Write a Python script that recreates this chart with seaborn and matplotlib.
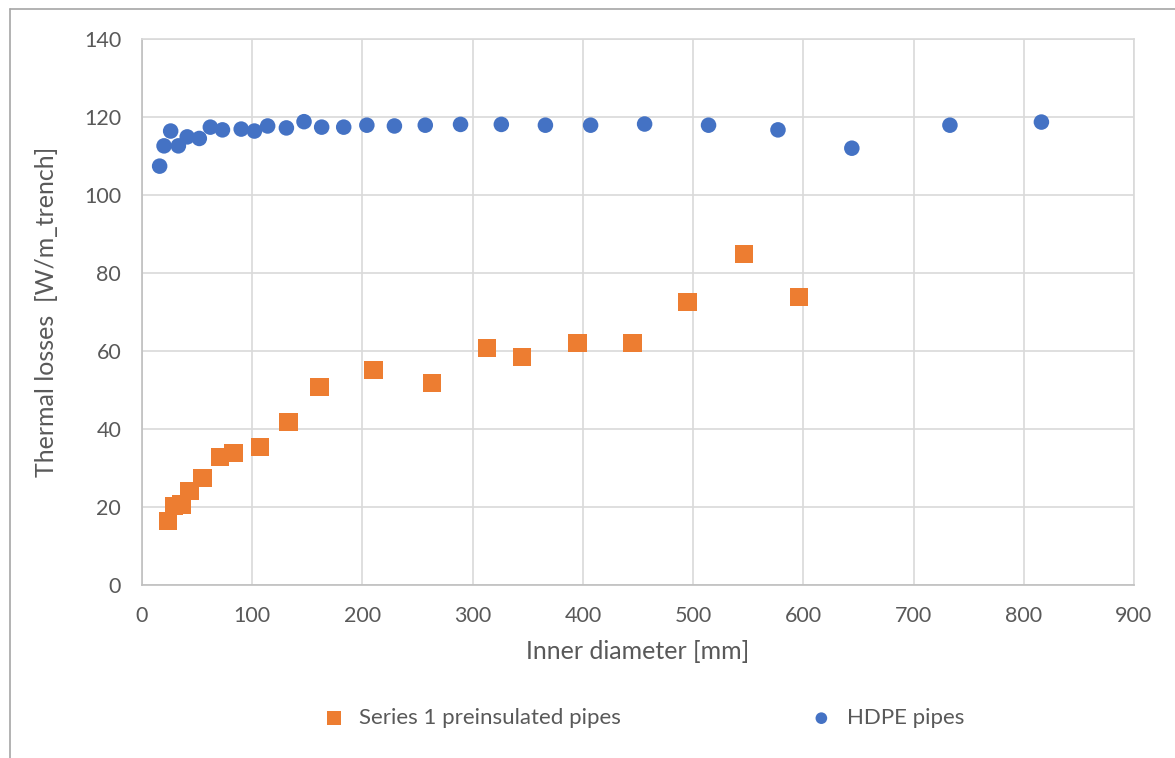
import matplotlib
matplotlib.use("Agg")
import matplotlib.pyplot as plt
from matplotlib.lines import Line2D
import seaborn as sns
import pandas as pd

# HDPE pipes
hdpe_d = [16, 20, 26, 33, 41, 52, 62, 73, 90, 102, 114, 131, 147, 163, 183, 204, 229, 257, 289, 326, 366, 407, 456, 514, 577, 644, 733, 816]
hdpe_q = [107.4, 112.6, 116.4, 112.6, 114.9, 114.5, 117.4, 116.7, 116.9, 116.4, 117.7, 117.2, 118.8, 117.4, 117.4, 117.9, 117.7, 117.9, 118.1, 118.1, 117.9, 117.9, 118.2, 117.9, 116.7, 112.0, 117.9, 118.7]

# Series 1 preinsulated pipes
pre_d = [23.6, 29, 36, 43, 55, 71, 83, 107, 133, 161, 210, 263, 313, 345, 395, 445, 495, 546, 596]
pre_q = [16.4, 20.3, 20.6, 24.1, 27.4, 32.8, 33.8, 35.4, 41.8, 50.8, 55.1, 51.8, 60.8, 58.5, 62.1, 62.1, 72.6, 84.9, 73.8]

series_pre = "Series 1 preinsulated pipes"
series_hdpe = "HDPE pipes"

df = pd.concat([
    pd.DataFrame({"d": pre_d, "q": pre_q, "series": series_pre}),
    pd.DataFrame({"d": hdpe_d, "q": hdpe_q, "series": series_hdpe}),
])

sns.set_theme(style="white")
plt.rcParams["font.family"] = ["Lato", "DejaVu Sans"]

fig = plt.figure(figsize=(11.75, 7.58), dpi=100)
ax = fig.add_axes([142 / 1175, 1 - 585 / 758, (1134 - 142) / 1175, (585 - 39) / 758])

orange = "#ED7D31"
blue = "#4472C4"

sns.scatterplot(data=df[df.series == series_pre], x="d", y="q", marker="s", s=175,
                color=orange, edgecolor="none", ax=ax, label=series_pre, zorder=3)
sns.scatterplot(data=df[df.series == series_hdpe], x="d", y="q", marker="o", s=125,
                color=blue, edgecolor="none", ax=ax, label=series_hdpe, zorder=3)

ax.set_xlim(0, 900)
ax.set_ylim(0, 140)
ax.set_xticks(range(0, 901, 100))
ax.set_yticks(range(0, 141, 20))
ax.grid(True, color="#D9D9D9", linewidth=1.2)
ax.set_axisbelow(True)
for sp in ax.spines.values():
    sp.set_color("#D9D9D9")
    sp.set_linewidth(1.2)
ax.spines["left"].set_color("#BFBFBF")
ax.spines["bottom"].set_color("#BFBFBF")
ax.tick_params(axis="both", length=0, labelsize=15.5, labelcolor="#595959", pad=15)

ax.set_xlabel("Inner diameter [mm]", fontsize=18, color="#595959", labelpad=10)
ax.set_ylabel("Thermal losses  [W/m_trench]", fontsize=18, color="#595959", labelpad=19)

leg = ax.legend(loc="center", bbox_to_anchor=(0.5, 1 - (718 - 39) / 546), ncol=2,
                frameon=False, fontsize=16, columnspacing=8.0, handletextpad=0.15,
                markerscale=0.75, labelcolor="#595959")

# chart border (left and top)
fig.add_artist(Line2D([10 / 1175, 10 / 1175], [0, 1 - 9 / 758], color="#A6A6A6", linewidth=1.2))
fig.add_artist(Line2D([10 / 1175, 1], [1 - 9 / 758, 1 - 9 / 758], color="#A6A6A6", linewidth=1.2))

fig.savefig("out.png", dpi=100)
